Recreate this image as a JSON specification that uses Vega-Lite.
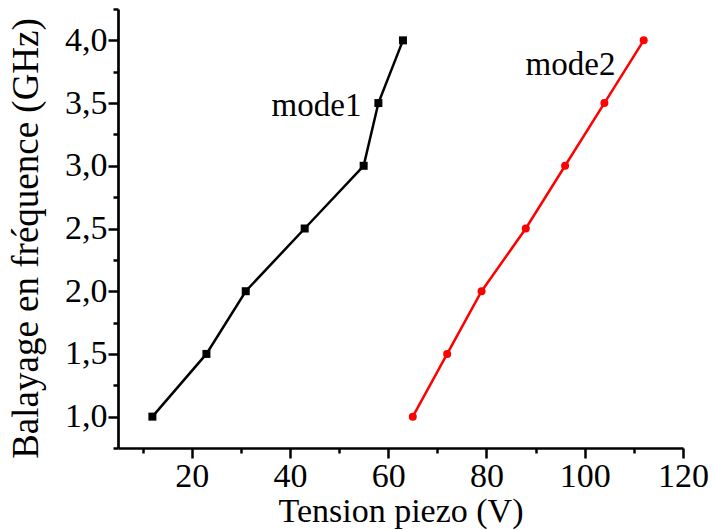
{
  "$schema": "https://vega.github.io/schema/vega-lite/v6.json",
  "width": 565,
  "height": 439,
  "autosize": "none",
  "padding": {"left": 118, "top": 9, "right": 31, "bottom": 82},
  "background": "white",
  "config": {
    "view": {"stroke": null},
    "font": "Times New Roman, Liberation Serif, serif",
    "text": {"font": "Times New Roman, Liberation Serif, serif"},
    "axis": {
      "grid": false,
      "domainColor": "black",
      "domainWidth": 2.7,
      "tickColor": "black",
      "tickWidth": 2.5,
      "labelFont": "Times New Roman, Liberation Serif, serif",
      "labelFontSize": 34,
      "labelColor": "black",
      "labelPadding": 1,
      "labelOverlap": false,
      "labelFlush": false,
      "labelBound": false,
      "titleFont": "Times New Roman, Liberation Serif, serif",
      "titleFontWeight": "normal",
      "titleColor": "black"
    }
  },
  "datasets": {
    "pts": [
      {"mode": "mode1", "v": 12, "f": 1.0},
      {"mode": "mode1", "v": 23, "f": 1.5},
      {"mode": "mode1", "v": 31, "f": 2.0},
      {"mode": "mode1", "v": 43, "f": 2.5},
      {"mode": "mode1", "v": 55, "f": 3.0},
      {"mode": "mode1", "v": 58, "f": 3.5},
      {"mode": "mode1", "v": 63, "f": 4.0},
      {"mode": "mode2", "v": 65, "f": 1.0},
      {"mode": "mode2", "v": 72, "f": 1.5},
      {"mode": "mode2", "v": 79, "f": 2.0},
      {"mode": "mode2", "v": 88, "f": 2.5},
      {"mode": "mode2", "v": 96, "f": 3.0},
      {"mode": "mode2", "v": 104, "f": 3.5},
      {"mode": "mode2", "v": 112, "f": 4.0}
    ],
    "notes": [
      {"label": "mode1", "v": 45.4, "f": 3.40},
      {"label": "mode2", "v": 97.1, "f": 3.727}
    ]
  },
  "encoding": {
    "x": {
      "field": "v",
      "type": "quantitative",
      "scale": {"domain": [5, 120], "nice": false, "zero": false},
      "axis": {
        "title": "Tension piezo (V)",
        "titleFontSize": 34,
        "titlePadding": 1,
        "values": [10, 20, 30, 40, 50, 60, 70, 80, 90, 100, 110, 120],
        "labelExpr": "datum.value % 20 === 0 ? datum.label : ''",
        "tickSize": {"condition": {"test": "datum.value % 20 === 0", "value": 10}, "value": 5}
      }
    },
    "y": {
      "field": "f",
      "type": "quantitative",
      "scale": {"domain": [0.75, 4.25], "nice": false, "zero": false},
      "axis": {
        "title": "Balayage en fréquence  (GHz)",
        "titleFontSize": 37,
        "titlePadding": 19,
        "titleY": 229,
        "values": [0.75, 1, 1.25, 1.5, 1.75, 2, 2.25, 2.5, 2.75, 3, 3.25, 3.5, 3.75, 4, 4.25],
        "labelExpr": "(datum.value * 2) % 1 === 0 ? replace(format(datum.value, '.1f'), '.', ',') : ''",
        "tickSize": {"condition": {"test": "(datum.value * 2) % 1 === 0", "value": 10}, "value": 5}
      }
    }
  },
  "layer": [
    {
      "data": {"name": "pts"},
      "mark": {"type": "line", "strokeWidth": 2.5},
      "encoding": {
        "color": {"field": "mode", "type": "nominal", "scale": {"domain": ["mode1", "mode2"], "range": ["#000000", "#ff0000"]}, "legend": null}
      }
    },
    {
      "data": {"name": "pts"},
      "mark": {"type": "point", "filled": true, "opacity": 1, "size": 64},
      "encoding": {
        "color": {"field": "mode", "type": "nominal", "scale": {"domain": ["mode1", "mode2"], "range": ["#000000", "#ff0000"]}, "legend": null},
        "shape": {"field": "mode", "type": "nominal", "scale": {"domain": ["mode1", "mode2"], "range": ["square", "circle"]}, "legend": null}
      }
    },
    {
      "data": {"name": "notes"},
      "mark": {"type": "text", "fontSize": 33, "baseline": "alphabetic", "align": "center", "color": "black"},
      "encoding": {
        "text": {"field": "label", "type": "nominal"}
      }
    }
  ]
}
